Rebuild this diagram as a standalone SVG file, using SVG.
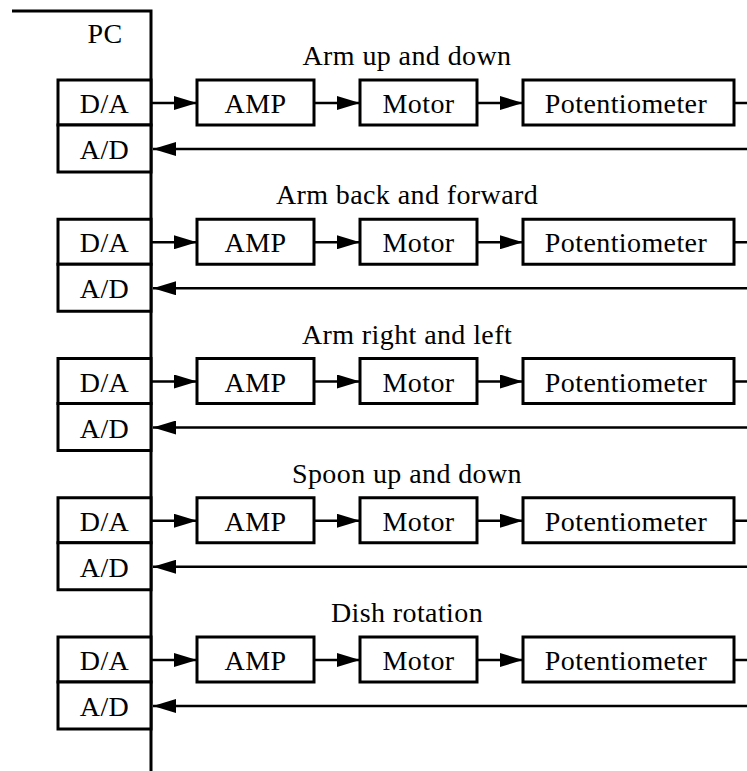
<svg xmlns="http://www.w3.org/2000/svg" width="747" height="771" viewBox="0 0 747 771" font-family="'Liberation Serif', serif">
<defs>
<marker id="ah" markerUnits="userSpaceOnUse" markerWidth="23" markerHeight="14" refX="23" refY="7" orient="auto">
<path d="M0,0 L23,7 L0,14 z" fill="#000"/>
</marker>
<style>
.box{fill:#fff;stroke:#000;stroke-width:3}
.ln{fill:none;stroke:#000;stroke-width:2.5}
.bus{fill:none;stroke:#000;stroke-width:3}
.t{font-family:'Liberation Serif',serif;font-size:28px;letter-spacing:0.4px;fill:#000;text-anchor:middle}
</style>
</defs>
<rect width="747" height="771" fill="#fff"/>
<g id="pc">
<path class="bus" d="M12,11 H151 V771"/>
<text class="t" font-family="'Liberation Serif', serif" x="105" y="43">PC</text>
</g>
<g id="row1" transform="translate(0,0)">
<text class="t" font-family="'Liberation Serif', serif" x="407" y="65">Arm up and down</text>
<g id="da1"><rect class="box" x="58" y="80" width="93" height="45"/><text class="t" font-family="'Liberation Serif', serif" x="104.5" y="113">D/A</text></g>
<g id="ad1"><rect class="box" x="58" y="125" width="93" height="47"/><text class="t" font-family="'Liberation Serif', serif" x="104.5" y="159">A/D</text></g>
<g id="amp1"><rect class="box" x="197" y="80" width="117" height="45"/><text class="t" font-family="'Liberation Serif', serif" x="255.5" y="113">AMP</text></g>
<g id="motor1"><rect class="box" x="360" y="80" width="117" height="45"/><text class="t" font-family="'Liberation Serif', serif" x="418.5" y="113">Motor</text></g>
<g id="pot1"><rect class="box" x="523" y="80" width="211" height="45"/><text class="t" font-family="'Liberation Serif', serif" x="626" y="113">Potentiometer</text></g>
<g id="conn1">
<line class="ln" x1="151" y1="103" x2="197" y2="103" marker-end="url(#ah)"/>
<line class="ln" x1="314" y1="103" x2="360" y2="103" marker-end="url(#ah)"/>
<line class="ln" x1="477" y1="103" x2="523" y2="103" marker-end="url(#ah)"/>
<line class="ln" x1="734" y1="103" x2="747" y2="103"/>
<line class="ln" x1="747" y1="149" x2="153" y2="149" marker-end="url(#ah)"/>
</g>
</g>
<g id="row2" transform="translate(0,139.25)">
<text class="t" font-family="'Liberation Serif', serif" x="407" y="65">Arm back and forward</text>
<g id="da2"><rect class="box" x="58" y="80" width="93" height="45"/><text class="t" font-family="'Liberation Serif', serif" x="104.5" y="113">D/A</text></g>
<g id="ad2"><rect class="box" x="58" y="125" width="93" height="47"/><text class="t" font-family="'Liberation Serif', serif" x="104.5" y="159">A/D</text></g>
<g id="amp2"><rect class="box" x="197" y="80" width="117" height="45"/><text class="t" font-family="'Liberation Serif', serif" x="255.5" y="113">AMP</text></g>
<g id="motor2"><rect class="box" x="360" y="80" width="117" height="45"/><text class="t" font-family="'Liberation Serif', serif" x="418.5" y="113">Motor</text></g>
<g id="pot2"><rect class="box" x="523" y="80" width="211" height="45"/><text class="t" font-family="'Liberation Serif', serif" x="626" y="113">Potentiometer</text></g>
<g id="conn2">
<line class="ln" x1="151" y1="103" x2="197" y2="103" marker-end="url(#ah)"/>
<line class="ln" x1="314" y1="103" x2="360" y2="103" marker-end="url(#ah)"/>
<line class="ln" x1="477" y1="103" x2="523" y2="103" marker-end="url(#ah)"/>
<line class="ln" x1="734" y1="103" x2="747" y2="103"/>
<line class="ln" x1="747" y1="149" x2="153" y2="149" marker-end="url(#ah)"/>
</g>
</g>
<g id="row3" transform="translate(0,278.5)">
<text class="t" font-family="'Liberation Serif', serif" x="407" y="65">Arm right and left</text>
<g id="da3"><rect class="box" x="58" y="80" width="93" height="45"/><text class="t" font-family="'Liberation Serif', serif" x="104.5" y="113">D/A</text></g>
<g id="ad3"><rect class="box" x="58" y="125" width="93" height="47"/><text class="t" font-family="'Liberation Serif', serif" x="104.5" y="159">A/D</text></g>
<g id="amp3"><rect class="box" x="197" y="80" width="117" height="45"/><text class="t" font-family="'Liberation Serif', serif" x="255.5" y="113">AMP</text></g>
<g id="motor3"><rect class="box" x="360" y="80" width="117" height="45"/><text class="t" font-family="'Liberation Serif', serif" x="418.5" y="113">Motor</text></g>
<g id="pot3"><rect class="box" x="523" y="80" width="211" height="45"/><text class="t" font-family="'Liberation Serif', serif" x="626" y="113">Potentiometer</text></g>
<g id="conn3">
<line class="ln" x1="151" y1="103" x2="197" y2="103" marker-end="url(#ah)"/>
<line class="ln" x1="314" y1="103" x2="360" y2="103" marker-end="url(#ah)"/>
<line class="ln" x1="477" y1="103" x2="523" y2="103" marker-end="url(#ah)"/>
<line class="ln" x1="734" y1="103" x2="747" y2="103"/>
<line class="ln" x1="747" y1="149" x2="153" y2="149" marker-end="url(#ah)"/>
</g>
</g>
<g id="row4" transform="translate(0,417.75)">
<text class="t" font-family="'Liberation Serif', serif" x="407" y="65">Spoon up and down</text>
<g id="da4"><rect class="box" x="58" y="80" width="93" height="45"/><text class="t" font-family="'Liberation Serif', serif" x="104.5" y="113">D/A</text></g>
<g id="ad4"><rect class="box" x="58" y="125" width="93" height="47"/><text class="t" font-family="'Liberation Serif', serif" x="104.5" y="159">A/D</text></g>
<g id="amp4"><rect class="box" x="197" y="80" width="117" height="45"/><text class="t" font-family="'Liberation Serif', serif" x="255.5" y="113">AMP</text></g>
<g id="motor4"><rect class="box" x="360" y="80" width="117" height="45"/><text class="t" font-family="'Liberation Serif', serif" x="418.5" y="113">Motor</text></g>
<g id="pot4"><rect class="box" x="523" y="80" width="211" height="45"/><text class="t" font-family="'Liberation Serif', serif" x="626" y="113">Potentiometer</text></g>
<g id="conn4">
<line class="ln" x1="151" y1="103" x2="197" y2="103" marker-end="url(#ah)"/>
<line class="ln" x1="314" y1="103" x2="360" y2="103" marker-end="url(#ah)"/>
<line class="ln" x1="477" y1="103" x2="523" y2="103" marker-end="url(#ah)"/>
<line class="ln" x1="734" y1="103" x2="747" y2="103"/>
<line class="ln" x1="747" y1="149" x2="153" y2="149" marker-end="url(#ah)"/>
</g>
</g>
<g id="row5" transform="translate(0,557)">
<text class="t" font-family="'Liberation Serif', serif" x="407" y="65">Dish rotation</text>
<g id="da5"><rect class="box" x="58" y="80" width="93" height="45"/><text class="t" font-family="'Liberation Serif', serif" x="104.5" y="113">D/A</text></g>
<g id="ad5"><rect class="box" x="58" y="125" width="93" height="47"/><text class="t" font-family="'Liberation Serif', serif" x="104.5" y="159">A/D</text></g>
<g id="amp5"><rect class="box" x="197" y="80" width="117" height="45"/><text class="t" font-family="'Liberation Serif', serif" x="255.5" y="113">AMP</text></g>
<g id="motor5"><rect class="box" x="360" y="80" width="117" height="45"/><text class="t" font-family="'Liberation Serif', serif" x="418.5" y="113">Motor</text></g>
<g id="pot5"><rect class="box" x="523" y="80" width="211" height="45"/><text class="t" font-family="'Liberation Serif', serif" x="626" y="113">Potentiometer</text></g>
<g id="conn5">
<line class="ln" x1="151" y1="103" x2="197" y2="103" marker-end="url(#ah)"/>
<line class="ln" x1="314" y1="103" x2="360" y2="103" marker-end="url(#ah)"/>
<line class="ln" x1="477" y1="103" x2="523" y2="103" marker-end="url(#ah)"/>
<line class="ln" x1="734" y1="103" x2="747" y2="103"/>
<line class="ln" x1="747" y1="149" x2="153" y2="149" marker-end="url(#ah)"/>
</g>
</g>
</svg>
